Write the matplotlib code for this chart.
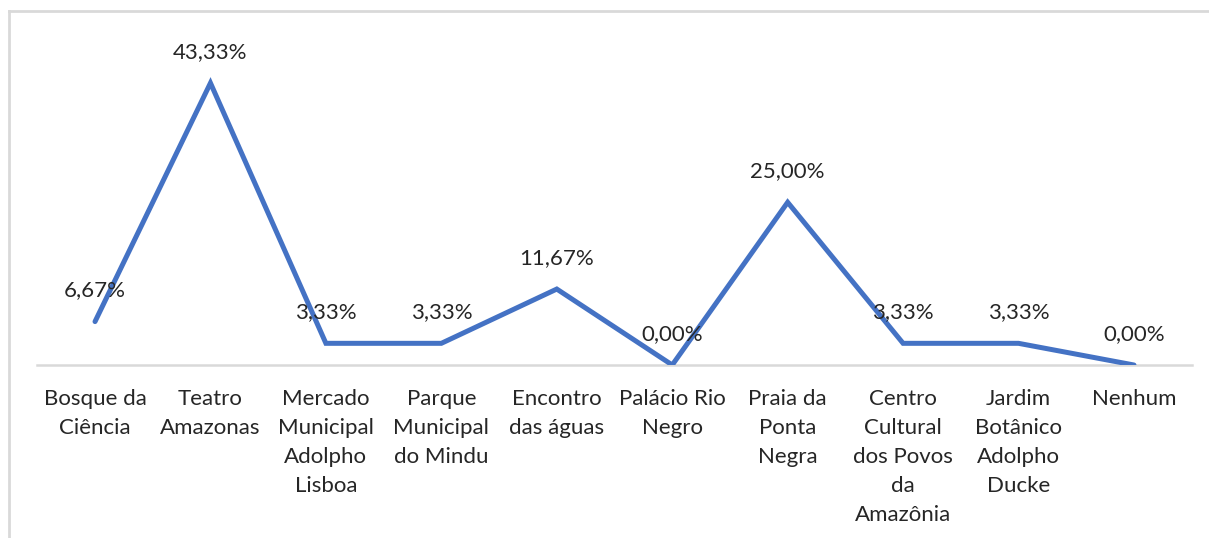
import matplotlib
matplotlib.use("Agg")
import matplotlib.pyplot as plt
from matplotlib.lines import Line2D

categories = ["Bosque da\nCiência", "Teatro\nAmazonas", "Mercado\nMunicipal\nAdolpho\nLisboa",
              "Parque\nMunicipal\ndo Mindu", "Encontro\ndas águas", "Palácio Rio\nNegro",
              "Praia da\nPonta\nNegra", "Centro\nCultural\ndos Povos\nda\nAmazônia",
              "Jardim\nBotânico\nAdolpho\nDucke", "Nenhum"]
values = [6.67, 43.33, 3.33, 3.33, 11.67, 0.00, 25.00, 3.33, 3.33, 0.00]
value_labels = ["6,67%", "43,33%", "3,33%", "3,33%", "11,67%", "0,00%", "25,00%", "3,33%", "3,33%", "0,00%"]

W, H = 1209, 538
fig = plt.figure(figsize=(W / 100, H / 100), dpi=100)
fig.patch.set_facecolor("white")

text_color = "#262626"
font = "Lato"

ax = fig.add_axes([37.3 / W, 1 - 365 / H, (1191.7 - 37.3) / W, (365 - 39.6) / H])
x = list(range(len(values)))
ax.plot(x, values, color="#4472C4", lw=3.6, solid_capstyle="round", solid_joinstyle="miter", zorder=3)
ax.set_xlim(-0.5, len(values) - 0.5)
ax.set_ylim(0, 50)
for s in ["top", "right", "left"]:
    ax.spines[s].set_visible(False)
ax.spines["bottom"].set_color("#D9D9D9")
ax.spines["bottom"].set_linewidth(1.8)
ax.set_yticks([])
ax.set_xticks(x)
ax.set_xticklabels(categories, fontsize=16, family=font, color=text_color, linespacing=1.57, va="top")
ax.tick_params(axis="x", length=0, pad=17)

for xi, v, lab in zip(x, values, value_labels):
    ax.annotate(lab, (xi, v), xytext=(0, 31), textcoords="offset pixels",
                ha="center", va="center", fontsize=16, family=font, color=text_color, zorder=4)

# outer frame (top and left edges)
fig.add_artist(Line2D([9 / W, 1], [1 - 11 / H, 1 - 11 / H], transform=fig.transFigure, color="#D9D9D9", lw=2))
fig.add_artist(Line2D([9 / W, 9 / W], [0, 1 - 11 / H], transform=fig.transFigure, color="#D9D9D9", lw=2))

fig.savefig("out.png", dpi=100)
